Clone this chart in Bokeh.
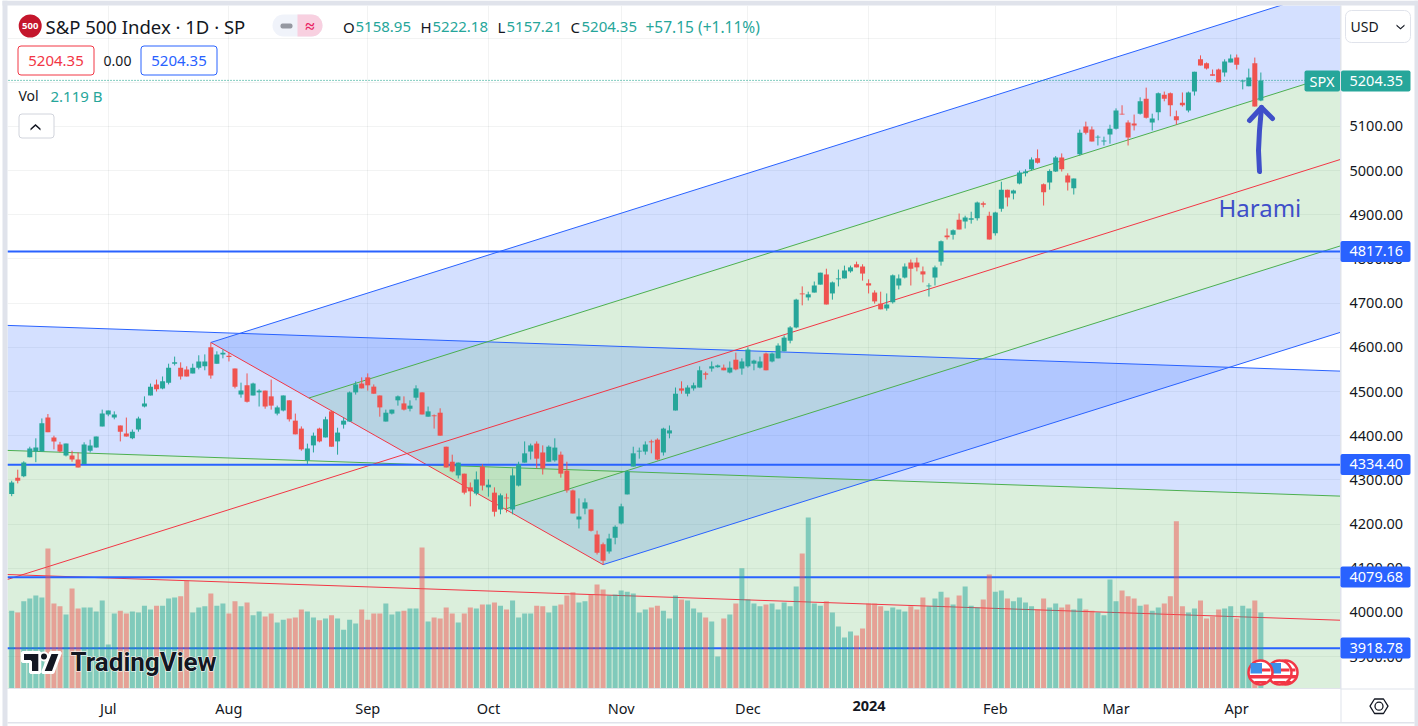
from bokeh.plotting import figure
from bokeh.layouts import column
from bokeh.models import (Range1d, FixedTicker, NumeralTickFormatter, Label, BoxAnnotation,
                          PolyAnnotation, ColumnDataSource)
from bokeh.core.properties import value
from bokeh.embed import file_html
from bokeh.resources import INLINE
import numpy as np

OPEN = [4268,4305,4308,4351,4364,4364,4441,4396,4380,4355,
4355,4346,4336,4366,4373,4421,4448,4441,4423,4405,
4394,4414,4466,4491,4516,4507,4520,4563,4554,4550,
4541,4554,4557,4600,4563,4584,4581,4552,4493,4514,
4491,4498,4502,4489,4450,4457,4480,4434,4416,4344,
4378,4416,4396,4455,4387,4425,4432,4498,4518,4532,
4511,4491,4432,4450,4480,4473,4461,4486,4498,4443,
4446,4452,4375,4341,4310,4314,4283,4269,4330,4283,
4271,4233,4260,4233,4287,4339,4364,4382,4362,4341,
4344,4357,4321,4276,4210,4235,4233,4176,4154,4138,
4169,4201,4267,4330,4364,4364,4387,4391,4362,4405,
4457,4507,4495,4507,4509,4541,4552,4555,4554,4543,
4572,4552,4557,4563,4554,4586,4568,4575,4591,4615,
4645,4722,4713,4724,4742,4765,4722,4754,4756,4772,
4788,4783,4745,4724,4699,4688,4702,4740,4758,4792,
4792,4772,4738,4758,4794,4853,4855,4889,4885,4889,
4892,4926,4898,4858,4914,4957,4948,4971,4994,5003,
5028,4969,4973,4998,5030,4989,4960,5037,5100,5093,
5075,5066,5082,5095,5129,5109,5107,5129,5163,5109,
5132,5172,5175,5123,5154,5136,5179,5252,5243,5218,
5229,5222,5245,5256,5202,5191,5243,5158.95]
HIGH = [4298,4323,4342,4375,4394,4439,4449,4400,4386,4382,
4366,4362,4385,4391,4398,4459,4457,4455,4423,4441,
4414,4443,4489,4518,4527,4534,4563,4579,4566,4557,
4563,4582,4584,4611,4591,4595,4588,4552,4520,4541,
4520,4505,4502,4527,4468,4491,4480,4450,4421,4382,
4407,4418,4443,4457,4418,4441,4500,4523,4532,4541,
4516,4491,4459,4459,4491,4489,4480,4514,4498,4466,
4448,4462,4375,4357,4339,4314,4294,4319,4335,4301,
4283,4269,4269,4326,4341,4387,4382,4387,4378,4378,
4394,4364,4341,4278,4258,4258,4233,4185,4158,4178,
4197,4246,4321,4375,4373,4387,4391,4394,4418,4423,
4509,4523,4514,4520,4557,4545,4568,4561,4561,4568,
4588,4575,4600,4572,4579,4588,4588,4609,4627,4648,
4710,4738,4726,4749,4769,4778,4749,4776,4785,4785,
4794,4788,4754,4729,4726,4722,4765,4765,4790,4799,
4803,4783,4745,4785,4842,4869,4867,4903,4898,4907,
4930,4930,4907,4907,4975,4957,4957,5000,5003,5030,
5048,4971,5003,5033,5039,4994,4982,5093,5111,5100,
5080,5077,5104,5141,5148,5114,5127,5166,5188,5129,
5177,5179,5177,5136,5177,5179,5224,5261,5245,5229,
5231,5252,5263,5263,5206,5231,5256,5222.18]
LOW = [4263,4292,4306,4351,4340,4364,4408,4369,4362,4353,
4341,4328,4336,4362,4373,4421,4444,4437,4387,4398,
4392,4409,4464,4491,4500,4505,4516,4559,4527,4534,
4541,4550,4548,4529,4563,4575,4568,4507,4486,4475,
4491,4466,4461,4459,4446,4455,4432,4403,4366,4336,
4362,4385,4396,4375,4357,4416,4432,4493,4507,4502,
4495,4443,4432,4448,4468,4457,4455,4480,4448,4443,
4416,4400,4328,4317,4303,4267,4240,4265,4276,4262,
4217,4222,4226,4222,4285,4339,4346,4326,4312,4341,
4341,4305,4271,4224,4190,4222,4183,4131,4108,4133,
4154,4199,4267,4330,4348,4357,4360,4344,4355,4394,
4457,4495,4489,4502,4509,4527,4545,4554,4548,4541,
4548,4538,4554,4548,4552,4548,4566,4575,4591,4609,
4643,4695,4706,4724,4742,4697,4708,4738,4756,4769,
4781,4751,4722,4699,4686,4683,4699,4731,4756,4740,
4772,4747,4715,4740,4785,4844,4844,4867,4869,4880,
4887,4917,4844,4853,4907,4919,4935,4969,4987,5000,
5016,4921,4957,4997,4998,4955,4946,5034,5082,5066,
5057,5057,5061,5093,5127,5057,5091,5127,5118,5091,
5114,5157,5123,5104,5145,5132,5170,5238,5229,5215,
5200,5213,5245,5229,5184,5191,5145,5157.21]
CLOSE = [4294,4298,4339,4371,4373,4428,4408,4387,4364,4382,
4346,4328,4380,4378,4398,4450,4457,4448,4409,4398,
4409,4439,4473,4511,4505,4523,4554,4566,4534,4534,
4554,4568,4568,4536,4584,4588,4578,4511,4502,4477,
4518,4502,4466,4468,4464,4491,4437,4403,4369,4371,
4400,4387,4437,4375,4407,4434,4498,4516,4507,4514,
4495,4464,4452,4459,4489,4459,4468,4507,4448,4455,
4444,4400,4328,4319,4339,4271,4274,4301,4287,4289,
4228,4265,4258,4310,4335,4360,4378,4348,4326,4375,
4373,4314,4276,4224,4217,4249,4185,4135,4117,4167,
4194,4240,4319,4360,4366,4380,4385,4346,4416,4412,
4495,4502,4509,4514,4548,4538,4557,4559,4548,4554,
4550,4568,4595,4570,4568,4548,4586,4604,4622,4645,
4708,4720,4720,4740,4769,4697,4747,4756,4774,4781,
4781,4767,4740,4704,4686,4697,4763,4756,4783,4778,
4781,4765,4740,4781,4840,4849,4865,4867,4894,4892,
4928,4923,4844,4905,4957,4939,4955,4996,4998,5025,
5018,4951,4999,5030,5003,4973,4982,5086,5086,5066,
5077,5068,5095,5136,5127,5075,5102,5157,5120,5118,
5175,5163,5148,5114,5148,5177,5224,5238,5231,5215,
5200,5247,5254,5240,5204,5211,5145,5204.35]
VOLUME = [2.17,2.12,2.43,2.51,2.59,2.54,3.90,2.37,2.29,2.06,
2.79,2.23,2.26,2.26,2.15,2.45,1.23,2.09,2.17,2.09,
2.15,2.12,2.31,2.20,2.31,2.31,2.51,2.54,2.57,3.01,
2.12,2.26,2.29,2.65,2.31,2.37,2.09,2.43,2.29,2.40,
2.04,2.15,2.01,2.09,1.84,1.92,1.95,1.98,2.20,2.15,
1.98,1.90,1.95,2.04,1.95,1.64,1.92,1.81,2.20,1.92,
2.09,2.09,2.37,2.06,2.15,2.17,2.23,2.23,3.93,1.87,
1.98,1.95,2.26,2.09,1.84,2.09,2.26,2.23,2.34,2.34,
2.40,2.31,2.20,2.45,1.98,2.09,2.09,2.31,2.29,2.12,
2.31,2.34,2.59,2.68,2.40,2.43,2.62,2.90,2.76,2.59,
2.62,2.73,2.70,2.65,2.12,2.20,2.26,2.31,2.17,1.95,
2.59,2.48,2.45,2.23,2.12,1.98,1.87,0.89,1.95,2.06,
2.37,3.35,2.48,2.37,2.29,2.34,2.37,2.20,2.40,2.29,
2.84,3.76,4.77,2.37,2.31,2.43,2.12,1.73,1.42,1.59,
1.48,1.67,2.37,2.37,2.29,2.17,2.26,2.20,2.15,2.29,
2.20,2.54,2.29,2.51,2.70,2.54,2.34,2.59,2.84,2.31,
2.26,2.48,3.18,2.70,2.73,2.51,2.43,2.54,2.40,2.29,
2.20,2.51,2.26,2.37,2.26,2.34,2.20,2.51,2.20,2.17,
2.12,2.04,3.04,2.43,2.73,2.57,2.51,2.31,2.34,2.17,
2.26,2.37,2.57,4.66,2.29,2.12,2.23,2.45,1.95,2.01,
2.20,2.23,2.29,1.95,2.31,2.23,2.45,2.119]
assert len(OPEN) == len(HIGH) == len(LOW) == len(CLOSE) == len(VOLUME) == 208

MONTH_BARS = [16, 36, 59, 79, 101, 122, 142, 163, 183, 203]
MONTH_LABELS = ["Jul", "Aug", "Sep", "Oct", "Nov", "Dec", "", "Feb", "Mar", "Apr"]
PRICE_TICKS = [3900, 4000, 4100, 4200, 4300, 4400, 4500, 4600, 4700, 4800, 4900, 5000, 5100]
GRID_TICKS = PRICE_TICKS + [5200, 5300]
HLINES = [4817.16, 4334.40, 4079.68, 3918.78]

# pitchfork 1 anchors (bar, price)
F1_PIVOT = (-30.0, 3948.4)
F1_A = (33.0, 4611.0)
F1_B = (98.0, 4108.0)
# pitchfork 2: bar at which levels are read, upper / half / median / lower-half prices, slope per bar
F2_BAR = -10.0
F2_LEVELS = [4654, 4371, 4090, 3808]
F2_SLOPE = -0.4686
X_END = 260.0

GREEN, RED, BLUE, LGREEN, MRED = "#26A69A", "#EF5350", "#2962FF", "#4CAF50", "#F23645"
TEXT = "#131722"
PAGE = "#E0E3EB"
FONT = "Noto Sans"

W, H = 1418, 726

p = figure(width=W, height=H, output_backend="svg", toolbar_location=None,
           x_range=Range1d(-0.696, 220.2), y_range=Range1d(3827.6, 5373.9),
           y_axis_location="right", min_border_left=7, min_border_top=5,
           min_border_right=78, min_border_bottom=38)
p.outline_line_color = None
p.extra_y_ranges = {"vol": Range1d(0, 19.04)}

yax = p.yaxis[0]
yax.ticker = FixedTicker(ticks=PRICE_TICKS)
yax.formatter = NumeralTickFormatter(format="0.00")
xax = p.xaxis[0]
xax.ticker = FixedTicker(ticks=MONTH_BARS)
xax.major_label_overrides = {b: t for b, t in zip(MONTH_BARS, MONTH_LABELS)}
for ax, off in ((yax, 9), (xax, 9)):
    ax.major_tick_line_color = None
    ax.minor_tick_line_color = None
    ax.major_tick_out = 0
    ax.major_tick_in = 0
    ax.minor_tick_out = 0
    ax.axis_line_color = PAGE
    ax.major_label_standoff = off
    ax.major_label_text_font = FONT
    ax.major_label_text_font_size = "14.5px"
    ax.major_label_text_color = TEXT

for g, t in ((p.xgrid[0], MONTH_BARS), (p.ygrid[0], GRID_TICKS)):
    g.ticker = FixedTicker(ticks=t)
    g.grid_line_color = "#2A2E39"
    g.grid_line_alpha = 0.06
    g.grid_line_width = 1

# pitchfork 1 fills
A, B, P = np.array(F1_A), np.array(F1_B), np.array(F1_PIVOT)
M = (A + B) / 2
slope = (M[1] - P[1]) / (M[0] - P[0])
ext = lambda pt: (X_END, pt[1] + slope * (X_END - pt[0]))
UG, LG = (A + M) / 2, (M + B) / 2
def poly(pts, col):
    p.patch([q_[0] for q_ in pts], [q_[1] for q_ in pts], fill_color=col, fill_alpha=0.2, line_color=None)
poly([A, UG, ext(UG), ext(A)], BLUE)
poly([UG, LG, ext(LG), ext(UG)], LGREEN)
poly([LG, B, ext(B), ext(LG)], BLUE)

# pitchfork 2 fills and lines
lv = lambda price: (price, price + F2_SLOPE * (X_END - F2_BAR))
def band(a, b, col):
    a0, a1 = lv(a); b0, b1 = lv(b)
    p.patch([F2_BAR, X_END, X_END, F2_BAR], [a0, a1, b1, b0], fill_color=col, fill_alpha=0.2, line_color=None)
band(F2_LEVELS[0], F2_LEVELS[1], BLUE)
band(F2_LEVELS[1], F2_LEVELS[2], LGREEN)
band(F2_LEVELS[2], F2_LEVELS[3], LGREEN)
for price, col in zip(F2_LEVELS[:3], (BLUE, LGREEN, MRED)):
    y0, y1 = lv(price)
    p.line([F2_BAR, X_END], [y0, y1], line_color=col, line_width=1)

# fork 1 lines
p.line([P[0], X_END], [P[1], ext(M)[1]], line_color=MRED, line_width=1)
p.line([A[0], B[0]], [A[1], B[1]], line_color=MRED, line_width=1)
for pt, col in ((A, BLUE), (UG, LGREEN), (LG, LGREEN), (B, BLUE)):
    e = ext(pt)
    p.line([pt[0], e[0]], [pt[1], e[1]], line_color=col, line_width=1)

# last price dotted line, horizontal lines
p.line([-5, X_END], [CLOSE[-1], CLOSE[-1]], line_color="#089981", line_dash="1 2", line_width=1)
for val in HLINES:
    p.line([-5, X_END], [val, val], line_color=BLUE, line_width=2)

# volume and candles
idx = np.arange(len(OPEN))
o, h, l, c, v = map(np.array, (OPEN, HIGH, LOW, CLOSE, VOLUME))
up = c >= o
src_up = ColumnDataSource(dict(x=idx[up], o=o[up], h=h[up], l=l[up], c=c[up], v=v[up]))
src_dn = ColumnDataSource(dict(x=idx[~up], o=o[~up], h=h[~up], l=l[~up], c=c[~up], v=v[~up]))
BAR_W = 0.83
for s, col in ((src_up, GREEN), (src_dn, RED)):
    p.vbar(x="x", bottom=0, top="v", width=BAR_W, source=s, fill_color=col, fill_alpha=0.5,
           line_color=None, y_range_name="vol")
for s, col in ((src_up, GREEN), (src_dn, RED)):
    p.segment(x0="x", x1="x", y0="l", y1="h", source=s, line_color=col, line_width=1)
    p.vbar(x="x", bottom="o", top="c", width=BAR_W, source=s, fill_color=col, line_color=None)

# ---------- second, transparent figure laid over the chart, in window pixels ----------
q = figure(width=W, height=H, output_backend="svg", toolbar_location=None,
           x_range=Range1d(0, W), y_range=Range1d(H, 0),
           x_axis_location=None, y_axis_location=None,
           min_border_left=0, min_border_right=0, min_border_top=0, min_border_bottom=0)
q.outline_line_color = None
q.background_fill_color = None
q.border_fill_color = None
q.grid.visible = False

def label(x, y, text, color=TEXT, size=14, align="left", style="normal", font=FONT):
    q.add_layout(Label(x=x, y=y, text=text, text_color=color, text_font=font, text_font_size=f"{size}px",
                       text_align=align, text_baseline="middle", text_font_style=style))
def box(x0, x1, y0, y1, fill=None, line=None, radius=0, lw=1):
    q.add_layout(BoxAnnotation(left=x0, right=x1, top=y0, bottom=y1,
                               fill_color=fill, fill_alpha=1 if fill else 0, line_color=line, line_width=lw,
                               line_alpha=1 if line else 0, border_radius=radius))
def shape(xs, ys, fill=None, line=None, lw=1):
    q.add_layout(PolyAnnotation(xs=xs, ys=ys, fill_color=fill, fill_alpha=1 if fill else 0, line_color=line,
                                line_width=lw, line_alpha=1 if line else 0))

# page frame
box(2, 7, 0, 726, fill=PAGE)
box(2, 1418, 0, 5, fill=PAGE)
box(1414, 1418, 0, 726, fill=PAGE)
box(7, 1414, 721.5, 723, fill=PAGE)
box(1340, 1414, 688, 689, fill=PAGE)
box(1340, 1341, 5, 722, fill=PAGE)

# hand-drawn arrow
ARROW = "#3F4FC9"
q.line([1259, 1258, 1259, 1261], [171, 150, 130, 107], line_color=ARROW, line_width=5, line_cap="round", line_join="round")
q.line([1249, 1261, 1272], [120, 107, 118], line_color=ARROW, line_width=5, line_cap="round", line_join="round")

# watermark mark
DARK = "#131722"
q.patch([22, 39.3, 39.3, 30, 30, 22], [652, 652, 672, 672, 661, 661], fill_color=DARK, line_color="white", line_width=3)
q.scatter([43.5], [656], size=8, fill_color=DARK, line_color="white", line_width=2)
q.patch([50, 60, 52.5, 42], [652, 652, 672, 672], fill_color=DARK, line_color="white", line_width=3)
q.text(x=[70], y=[661], text=["TradingView"], text_font=value("Roboto"), text_font_style="bold",
       text_font_size="26px", text_baseline="middle", text_color="white", text_outline_color="white")
q.text(x=[70], y=[661], text=["TradingView"], text_font=value("Roboto"), text_font_style="bold",
       text_font_size="26px", text_baseline="middle", text_color=DARK)

# flags
for cx in (1285, 1279, 1260):
    q.scatter([cx], [672], size=24, fill_color="white", line_color="#F23645", line_width=2.5)
    q.quad(left=[cx - 10], right=[cx + 1.5], top=[662.5], bottom=[673], fill_color="#3D8FE8", line_color=None)
    q.quad(left=[cx + 1.5], right=[cx + 10], top=[668], bottom=[671], fill_color="#F23645", line_color=None)
    q.quad(left=[cx - 10.5], right=[cx + 10.5], top=[674.5], bottom=[678], fill_color="#F23645", line_color=None)
    q.quad(left=[cx - 6], right=[cx + 6], top=[680.5], bottom=[682.5], fill_color="#F23645", line_color=None)

# right axis tags
box(1304, 1339.5, 70, 91, fill=GREEN, radius=2)
box(1340.5, 1410, 70, 91, fill=GREEN, radius=2)
label(1321.5, 80.5, "SPX", "white", 14.5, "center")
label(1349, 80.5, "5204.35", "white", 14.5)
for val, yc in zip(HLINES, (251, 464, 576.5, 647.5)):
    box(1340, 1410, yc - 10.5, yc + 10.5, fill=BLUE, radius=2)
    label(1349, yc - 0.5, f"{val:.2f}", "white", 14.5)

# top-right currency button
box(1345, 1410, 10, 42, fill="white", line=PAGE, radius=6)
label(1350, 26, "USD", TEXT, 14)
shape([1396, 1400, 1404, 1404, 1400, 1396], [24, 27.5, 24, 25.5, 29, 25.5], fill=TEXT)

# settings icon
shape([1369.5, 1374, 1383, 1387.5, 1383, 1374], [705.7, 698.5, 698.5, 705.7, 713, 713], line=TEXT, lw=1.3)
q.scatter([1378.5], [705.7], size=8, fill_color=None, line_color=TEXT, line_width=1.3)

# time axis bold year
label(868.5, 705, "2024", TEXT, 14.5, "center", "bold")

# header
q.scatter([29.7], [25.5], size=23, fill_color="#C4162C", line_color=None)
label(29.7, 25.5, "500", "white", 9.5, "center", "bold")
label(45, 26, "S&P 500 Index · 1D · SP", TEXT, 18.5)
box(272, 322, 14, 36, fill="#F0F3FA", radius=11)
box(297, 322, 14, 36, fill="#F8D0E0", radius=(0, 11, 11, 0))
box(280, 292, 23, 28, fill="#9598A1", radius=2)
label(309.5, 25, "≈", "#E91E63", 17, "center", "bold")
label(342.5, 26, "O", TEXT, 15)
label(355, 26, "5158.95", GREEN, 15)
label(420, 26, "H", TEXT, 15)
label(432, 26, "5222.18", GREEN, 15)
label(497, 26, "L", TEXT, 15)
label(506, 26, "5157.21", GREEN, 15)
label(570, 26, "C", TEXT, 15)
label(581, 26, "5204.35", GREEN, 15)
label(645, 26, "+57.15 (+1.11%)", GREEN, 15.5)

box(17.5, 93.5, 45.5, 74.5, fill="white", line=MRED, radius=3)
label(55.5, 60, "5204.35", MRED, 15, "center")
label(117, 60, "0.00", TEXT, 14, "center")
box(140.5, 216.5, 45.5, 74.5, fill="white", line=BLUE, radius=3)
label(178.5, 60, "5204.35", BLUE, 15, "center")

label(18, 95, "Vol", TEXT, 14)
label(50, 95, "2.119 B", GREEN, 15)
box(18.5, 53.5, 113.5, 137.5, fill="white", line="#D1D4DC", radius=3)
shape([30, 35, 40, 40, 35, 30], [128, 123.5, 128, 130, 125.5, 130], fill=TEXT)

# annotation text
label(1218, 206.5, "Harami", ARROW, 24)

overlay = column(q, margin=(-H, 0, 0, 0), width=W, height=H)
page = column(p, overlay, spacing=0, width=W)
open("out.html", "w").write(file_html(page, INLINE))
